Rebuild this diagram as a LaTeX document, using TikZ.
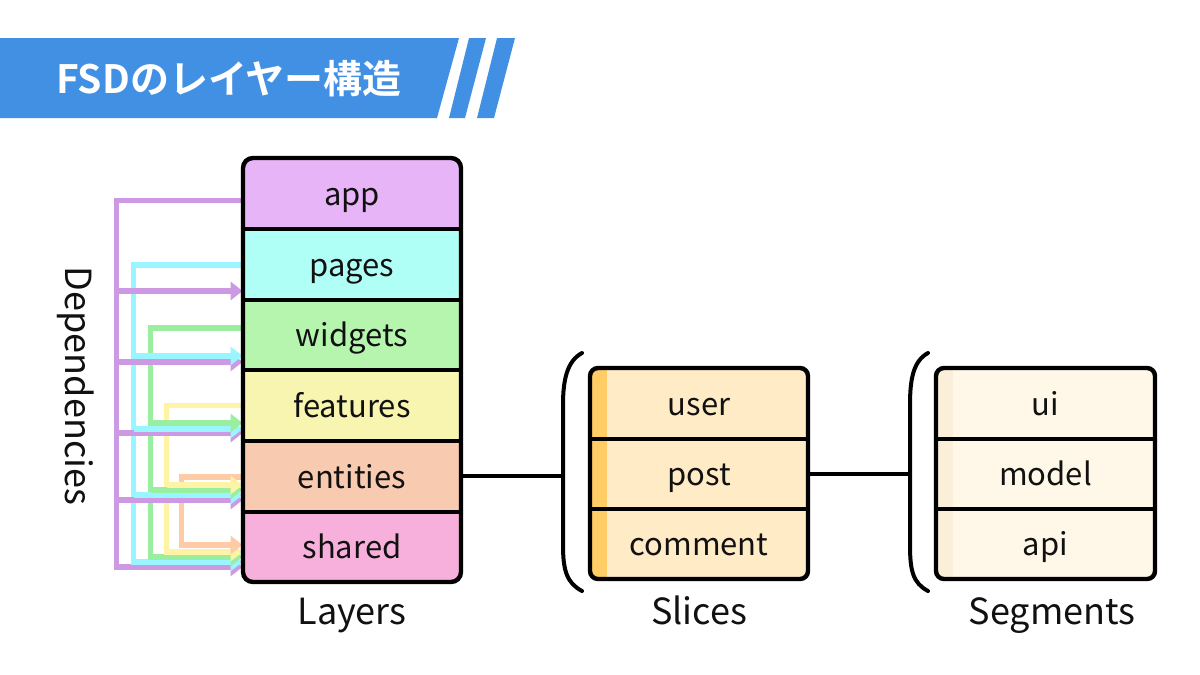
\documentclass[tikz,border=0pt]{standalone}
\usepackage{fontspec}
\setmainfont{Noto Sans CJK JP}[BoldFont={Noto Sans CJK JP Bold}]
\usetikzlibrary{arrows.meta,calc}
\definecolor{cBanner}{HTML}{4290E4}
\definecolor{cApp}{HTML}{E8B4F8}
\definecolor{cPages}{HTML}{AFFFF6}
\definecolor{cWidgets}{HTML}{B6F5AE}
\definecolor{cFeatures}{HTML}{F8F5B0}
\definecolor{cEntities}{HTML}{F8CAB0}
\definecolor{cShared}{HTML}{F7B0DC}
\definecolor{aPurple}{HTML}{CC99E2}
\definecolor{aCyan}{HTML}{99F5FF}
\definecolor{aGreen}{HTML}{99EEA0}
\definecolor{aYellow}{HTML}{FFF3A6}
\definecolor{aOrange}{HTML}{FFCBA6}
\definecolor{cSlice}{HTML}{FFEBC6}
\definecolor{cSliceStrip}{HTML}{FFCC66}
\definecolor{cSeg}{HTML}{FFF8E8}
\definecolor{cSegStrip}{HTML}{FCEFD9}
\definecolor{txt}{HTML}{111111}
\newcommand\rowfnt{\fontsize{15.5}{18}\selectfont}
\newcommand\lblfnt{\fontsize{18}{22}\selectfont}
\begin{document}
\begin{tikzpicture}[x=0.5pt,y=-0.5pt,
  row/.style={minimum width=109pt, minimum height=35.33pt, inner sep=0pt,
    text height=12pt, text depth=0pt, font=\rowfnt, text=txt},
  srow/.style={minimum width=109pt, minimum height=35.17pt, inner sep=0pt,
    text height=12pt, text depth=0pt, font=\rowfnt, text=txt},
  sep/.style={line width=2pt, draw=black},
  frame/.style={line width=2.2pt, draw=black, rounded corners=5pt},
  brk/.style={line width=2pt, line cap=round},
  conn/.style={line width=2pt},
  deparrow/.style={line width=2.6pt, line join=miter, -{Triangle[length=6pt,width=9pt]}},
  lbl/.style={font=\lblfnt, text=txt, anchor=base, inner sep=0pt}]
\useasboundingbox (0,0) rectangle (1200,675);
\fill[white] (0,0) rectangle (1200,675);

% title banner
\fill[cBanner] (0,38) -- (459,38) -- (437,118) -- (0,118) -- cycle;
\fill[cBanner] (469,38) -- (486,38) -- (465,118) -- (449,118) -- cycle;
\fill[cBanner] (497,38) -- (515,38) -- (494,118) -- (477,118) -- cycle;
\node[text=white, font=\bfseries\fontsize{19.5}{22}\selectfont, anchor=base, inner sep=0pt] (title) at (229,93) {FSDのレイヤー構造};

% layers
\begin{scope}
\clip[rounded corners=5pt] (243,158) rectangle (461,582);
\node[row, fill=cApp] (app) at (352,193.33) {app};
\node[row, fill=cPages] (pages) at (352,264) {pages};
\node[row, fill=cWidgets] (widgets) at (352,334.67) {widgets};
\node[row, fill=cFeatures] (features) at (352,405.33) {features};
\node[row, fill=cEntities] (entities) at (352,476) {entities};
\node[row, fill=cShared] (shared) at (352,546.67) {shared};
\end{scope}

% dependency trunks (incl. last branch to shared)
\draw[deparrow, draw=aPurple] ($(app.west)+(0,7)$) -| ($(shared.west)+(-126,20.3)$) -- ($(shared.west)+(0,20.3)$);
\draw[deparrow, draw=aCyan] ($(pages.west)+(0,1)$) -| ($(shared.west)+(-109,15.3)$) -- ($(shared.west)+(0,15.3)$);
\draw[deparrow, draw=aGreen] ($(widgets.west)+(0,-6.7)$) -| ($(shared.west)+(-92,10.3)$) -- ($(shared.west)+(0,10.3)$);
\draw[deparrow, draw=aYellow] ($(features.west)+(0,0)$) -| ($(shared.west)+(-76,5.3)$) -- ($(shared.west)+(0,5.3)$);
\draw[deparrow, draw=aOrange] ($(entities.west)+(0,1)$) -| ($(shared.west)+(-61,-1.7)$) -- ($(shared.west)+(0,-1.7)$);

% dependency branches
\draw[deparrow, draw=aPurple] ($(pages.west)+(-126,27)$) -- ($(pages.west)+(0,27)$);
\draw[deparrow, draw=aPurple] ($(widgets.west)+(-126,27.3)$) -- ($(widgets.west)+(0,27.3)$);
\draw[deparrow, draw=aPurple] ($(features.west)+(-126,27.7)$) -- ($(features.west)+(0,27.7)$);
\draw[deparrow, draw=aPurple] ($(entities.west)+(-126,24)$) -- ($(entities.west)+(0,24)$);
\draw[deparrow, draw=aCyan] ($(widgets.west)+(-109,21.3)$) -- ($(widgets.west)+(0,21.3)$);
\draw[deparrow, draw=aCyan] ($(features.west)+(-109,23.7)$) -- ($(features.west)+(0,23.7)$);
\draw[deparrow, draw=aCyan] ($(entities.west)+(-109,19)$) -- ($(entities.west)+(0,19)$);
\draw[deparrow, draw=aGreen] ($(features.west)+(-92,17.7)$) -- ($(features.west)+(0,17.7)$);
\draw[deparrow, draw=aGreen] ($(entities.west)+(-92,14)$) -- ($(entities.west)+(0,14)$);
\draw[deparrow, draw=aYellow] ($(entities.west)+(-76,9)$) -- ($(entities.west)+(0,9)$);

% layer separators and frame
\draw[sep] (app.south west) -- (app.south east);
\draw[sep] (pages.south west) -- (pages.south east);
\draw[sep] (widgets.south west) -- (widgets.south east);
\draw[sep] (features.south west) -- (features.south east);
\draw[sep] (entities.south west) -- (entities.south east);
\draw[frame] (243,158) rectangle (461,582);

% slices
\begin{scope}
\clip[rounded corners=4pt] (590,368) rectangle (808,579);
\node[srow, fill=cSlice] (user) at (699,403.17) {user};
\node[srow, fill=cSlice] (post) at (699,473.5) {post};
\node[srow, fill=cSlice] (comment) at (699,543.83) {comment};
\fill[cSliceStrip] (590,368) rectangle (607,579);
\end{scope}
\draw[sep] (user.south west) -- (user.south east);
\draw[sep] (post.south west) -- (post.south east);
\draw[frame, rounded corners=4pt] (590,368) rectangle (808,579);

% segments
\begin{scope}
\clip[rounded corners=4pt] (936,368) rectangle (1155,579);
\node[srow, fill=cSeg] (ui) at (1045.5,403.17) {ui};
\node[srow, fill=cSeg] (model) at (1045.5,473.5) {model};
\node[srow, fill=cSeg] (api) at (1045.5,543.83) {api};
\fill[cSegStrip] (936,368) rectangle (953,579);
\end{scope}
\draw[sep] (ui.south west) -- (ui.south east);
\draw[sep] (model.south west) -- (model.south east);
\draw[frame, rounded corners=4pt] (936,368) rectangle (1155,579);

% brackets
\draw[brk] (582,353) .. controls (567,361) and (563,380) .. (563,405) -- (563,545) .. controls (563,571) and (567,583) .. (582,591);
\coordinate (b1) at (563,476);
\draw[brk] (928,353) .. controls (913,361) and (910,380) .. (910,405) -- (910,545) .. controls (910,571) and (913,583) .. (928,591);
\coordinate (b2) at (910,473.5);

% connectors
\draw[conn] (entities.east) -- (b1);
\draw[conn] (post.east) -- (b2);

% labels
\node[lbl] (lLayers) at (352,624) {Layers};
\node[lbl] (lSlices) at (699,624) {Slices};
\node[lbl] (lSegments) at (1052,624) {Segments};
\node[font=\lblfnt, text=txt, rotate=-90, inner sep=0pt] (lDeps) at (76,386) {Dependencies};
\end{tikzpicture}
\end{document}
